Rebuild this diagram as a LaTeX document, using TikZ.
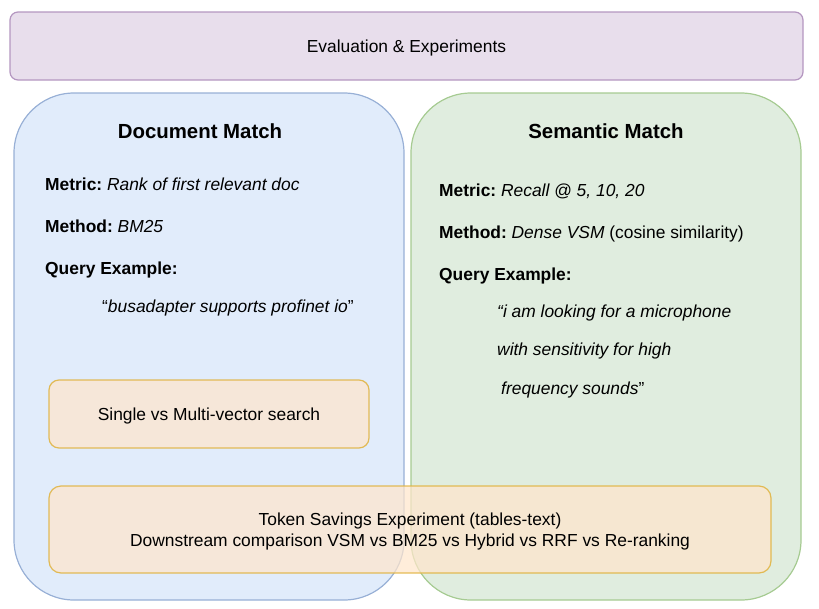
\documentclass[tikz,border=0pt]{standalone}
\usepackage{fontspec}
\setmainfont{Liberation Sans}
\frenchspacing
\definecolor{evalfill}{HTML}{E8DEEC}
\definecolor{evaldraw}{HTML}{B496C0}
\definecolor{docfill}{HTML}{E1ECFB}
\definecolor{docdraw}{HTML}{98B0D6}
\definecolor{semfill}{HTML}{E0EDDF}
\definecolor{semdraw}{HTML}{A6CB92}
\definecolor{expfill}{HTML}{FFE6CC}
\definecolor{expdraw}{HTML}{E0B23C}
\begin{document}
\begin{tikzpicture}[x=1pt,y=-1pt,
  box/.style={draw, line width=1.2pt, inner sep=0pt, outer sep=0pt},
  evalbox/.style={box, fill=evalfill, draw=evaldraw, rounded corners=8pt},
  panel/.style={box, rounded corners=60pt},
  expbox/.style={box, fill=expfill, draw=expdraw, fill opacity=0.72, draw opacity=0.85},
  body/.style={inner sep=0pt, anchor=base west, font=\fontsize{17.4}{21}\selectfont},
  title/.style={inner sep=0pt, anchor=base, font=\fontsize{20.4}{24}\selectfont\bfseries},
  label/.style={inner sep=0pt, font=\fontsize{17.4}{21.5}\selectfont, align=center}
]
\useasboundingbox (0,0) rectangle (819,608);

% header banner
\node[evalbox, minimum width=793pt, minimum height=68pt] (eval) at (406.5,46) {};
\node[label] (evaltext) at ([yshift=-2pt]eval.center) {Evaluation \& Experiments};

% the two match panels
\node[panel, fill=docfill, draw=docdraw, minimum width=390pt, minimum height=507pt] (doc) at (209,346.5) {};
\node[panel, fill=semfill, draw=semdraw, minimum width=390pt, minimum height=507pt] (sem) at (606,346.5) {};

% document match contents
\node[title] (doctitle) at (200,138) {Document Match};
\node[body] (docmetric) at (45,190) {\textbf{Metric:} \textit{Rank of first relevant doc}};
\node[body] (docmethod) at (45,232) {\textbf{Method:} \textit{BM25}};
\node[body] (docquery) at (45,274) {\textbf{Query Example:}};
\node[body] (docex) at (102,312) {“\textit{busadapter supports profinet io}”};

% semantic match contents
\node[title] (semtitle) at (606,138) {Semantic Match};
\node[body] (semmetric) at (439,196) {\textbf{Metric:} \textit{Recall @ 5, 10, 20}};
\node[body] (semmethod) at (439,238) {\textbf{Method:} \textit{Dense VSM} (cosine similarity)};
\node[body] (semquery) at (439,280) {\textbf{Query Example:}};
\node[body] (semex1) at (497,317) {\textit{“i am looking for a microphone}};
\node[body] (semex2) at (497,355) {\textit{with sensitivity for high}};
\node[body] (semex3) at (501,394) {\textit{frequency sounds}”};

% experiment boxes
\node[expbox, rounded corners=10pt, minimum width=320pt, minimum height=68pt] (single) at (209,414) {};
\node[label] (singletext) at ([yshift=-2pt]single.center) {Single vs Multi-vector search};
\node[expbox, rounded corners=12pt, minimum width=722pt, minimum height=87pt] (tokens) at (410,529.5) {};
\node[label] (tokenstext) at ([yshift=-2pt]tokens.center) {Token Savings Experiment (tables-text)\\Downstream comparison VSM vs BM25 vs Hybrid vs RRF vs Re-ranking};
\end{tikzpicture}
\end{document}
